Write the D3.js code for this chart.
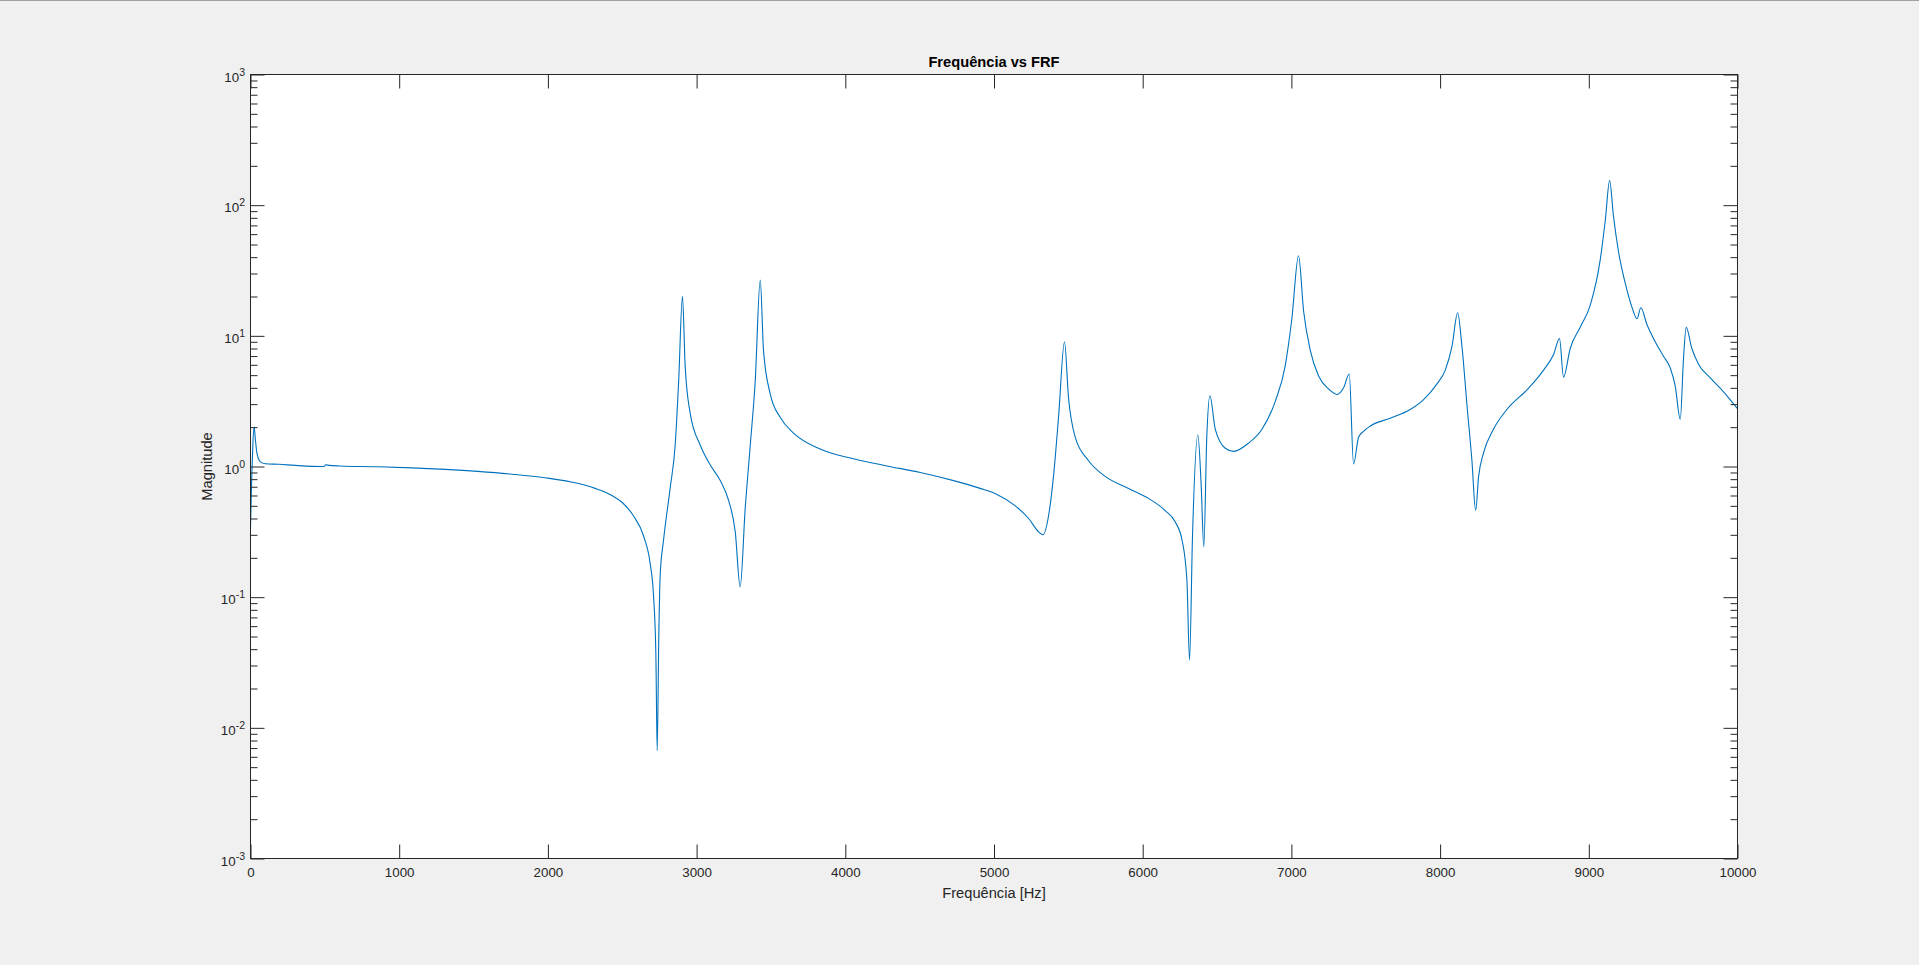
<!DOCTYPE html>
<html>
<head>
<meta charset="utf-8">
<script src="https://cdn.jsdelivr.net/npm/d3@7"></script>
<style>
  html, body { margin: 0; padding: 0; background: #f0f0f0; overflow: hidden; }
  svg { display: block; }
  text { font-family: "Liberation Sans", Arial, Helvetica, sans-serif; fill: #262626; }
</style>
</head>
<body>
<svg id="chart" width="1919" height="965"></svg>
<script>
const titleText = "Frequência vs FRF";
const xLabelText = "Frequência [Hz]";
const yLabelText = "Magnitude";

const xTicks = [0, 1000, 2000, 3000, 4000, 5000, 6000, 7000, 8000, 9000, 10000];
const yExponents = [-3, -2, -1, 0, 1, 2, 3];

const freq = [0, 8, 16, 25, 33, 43, 65, 100, 190, 300, 480, 495, 505, 530, 600, 860, 1085, 1310, 1530, 1760, 1980, 2206, 2318, 2430, 2500, 2576, 2643, 2688, 2710, 2726, 2735, 2746, 2755, 2778, 2822, 2856, 2879, 2905, 2923, 2957, 3024, 3091, 3159, 3215, 3260, 3293, 3327, 3361, 3394, 3428, 3450, 3495, 3562, 3652, 3831, 4056, 4280, 4504, 4728, 4907, 5010, 5143, 5233, 5300, 5329, 5367, 5400, 5434, 5474, 5501, 5546, 5636, 5748, 5905, 6039, 6151, 6219, 6264, 6297, 6315, 6335, 6371, 6393, 6411, 6431, 6452, 6488, 6555, 6611, 6712, 6802, 6891, 6958, 7003, 7048, 7082, 7127, 7183, 7250, 7306, 7351, 7389, 7418, 7452, 7485, 7530, 7665, 7799, 7889, 7979, 8035, 8080, 8118, 8147, 8181, 8214, 8239, 8259, 8292, 8359, 8449, 8584, 8696, 8763, 8803, 8830, 8875, 8943, 9010, 9077, 9111, 9140, 9166, 9200, 9245, 9290, 9324, 9350, 9391, 9435, 9502, 9548, 9581, 9615, 9637, 9655, 9693, 9738, 9817, 9906, 10000];

const magnitude = [0.34, 0.8, 1.5, 2.0, 1.6, 1.27, 1.09, 1.05, 1.04, 1.02, 1.0, 1.0, 1.03, 1.02, 1.01, 0.996, 0.976, 0.95, 0.917, 0.873, 0.82, 0.74, 0.68, 0.60, 0.53, 0.418, 0.295, 0.18, 0.104, 0.037, 0.0067, 0.052, 0.147, 0.275, 0.68, 1.46, 4.4, 20.1, 5.9, 2.55, 1.46, 1.03, 0.78, 0.55, 0.316, 0.12, 0.48, 1.46, 4.45, 26.7, 7.7, 3.6, 2.38, 1.80, 1.36, 1.145, 1.01, 0.90, 0.78, 0.68, 0.62, 0.50, 0.40, 0.316, 0.30, 0.42, 0.84, 2.38, 9.0, 3.37, 1.68, 1.107, 0.84, 0.68, 0.57, 0.46, 0.376, 0.275, 0.137, 0.033, 0.295, 1.74, 0.73, 0.243, 1.68, 3.48, 1.93, 1.38, 1.306, 1.51, 1.93, 3.14, 5.87, 13.5, 41, 15.5, 7.75, 4.93, 3.92, 3.56, 4.0, 5.1, 1.046, 1.68, 1.86, 2.04, 2.34, 2.73, 3.25, 4.29, 5.47, 8.3, 15.0, 8.3, 2.93, 1.11, 0.46, 0.84, 1.27, 1.93, 2.73, 3.86, 5.47, 7.2, 9.55, 4.83, 8.0, 11.7, 17.2, 38.3, 76.7, 154, 82, 44, 25.3, 16.6, 13.5, 16.4, 12.2, 9.55, 6.98, 5.67, 4.14, 2.30, 6.74, 11.6, 8.0, 6.07, 4.76, 3.73, 2.77];

const svg = d3.select("#chart");
const W = 1919, H = 965;
const L = 250.5, R = 1737.5, T = 74.5, B = 858.5;

svg.append("rect").attr("x", 0).attr("y", 0).attr("width", W).attr("height", H).attr("fill", "#f0f0f0");
svg.append("rect").attr("x", 0).attr("y", 0).attr("width", W).attr("height", 1).attr("fill", "#a0a0a0");

const x = d3.scaleLinear().domain([0, 10000]).range([L, R]);
const y = d3.scaleLog().domain([1e-3, 1e3]).range([B, T]);

svg.append("rect").attr("x", L).attr("y", T).attr("width", R - L).attr("height", B - T).attr("fill", "#ffffff");

svg.append("clipPath").attr("id", "clip").append("rect")
  .attr("x", L).attr("y", T).attr("width", R - L).attr("height", B - T);

const data = freq.map((f, i) => [f, magnitude[i]]);
svg.append("path")
  .datum(data)
  .attr("clip-path", "url(#clip)")
  .attr("fill", "none")
  .attr("stroke", "#0072BD")
  .attr("stroke-width", 1.1)
  .attr("stroke-linejoin", "round")
  .attr("d", d3.line().curve(d3.curveMonotoneX).x(d => x(d[0])).y(d => y(d[1])));

const axisColor = "#262626";
const majorY = yExponents.map(e => Math.pow(10, e));
const minorY = [];
for (let e = -3; e < 3; e++) for (let m = 2; m <= 9; m++) minorY.push(m * Math.pow(10, e));

function styleAxis(g) {
  g.select(".domain").remove();
  g.selectAll(".tick line").attr("stroke", axisColor).attr("stroke-width", 1);
  g.selectAll(".tick text").attr("fill", axisColor)
    .style("font-family", '"Liberation Sans", Arial, Helvetica, sans-serif')
    .style("font-size", "13.33px");
}

svg.append("g").attr("transform", `translate(0,${B})`)
  .call(d3.axisBottom(x).tickValues(xTicks).tickSizeInner(-14).tickSizeOuter(0).tickPadding(9.5).tickFormat(d3.format("d")))
  .call(styleAxis);
svg.append("g").attr("transform", `translate(0,${T})`)
  .call(d3.axisTop(x).tickValues(xTicks).tickSizeInner(-14).tickSizeOuter(0).tickFormat(""))
  .call(styleAxis);
svg.append("g").attr("transform", `translate(${L},0)`)
  .call(d3.axisLeft(y).tickValues(majorY).tickSizeInner(-14).tickSizeOuter(0).tickFormat(""))
  .call(styleAxis);
svg.append("g").attr("transform", `translate(${L},0)`)
  .call(d3.axisLeft(y).tickValues(minorY).tickSizeInner(-7).tickSizeOuter(0).tickFormat(""))
  .call(styleAxis);
svg.append("g").attr("transform", `translate(${R},0)`)
  .call(d3.axisRight(y).tickValues(majorY).tickSizeInner(-14).tickSizeOuter(0).tickFormat(""))
  .call(styleAxis);
svg.append("g").attr("transform", `translate(${R},0)`)
  .call(d3.axisRight(y).tickValues(minorY).tickSizeInner(-7).tickSizeOuter(0).tickFormat(""))
  .call(styleAxis);

const yl = svg.append("g");
yExponents.forEach(e => {
  const t = yl.append("text")
    .attr("x", 245)
    .attr("y", y(Math.pow(10, e)) + 7)
    .attr("text-anchor", "end")
    .style("font-size", "13.33px");
  t.append("tspan").text("10");
  t.append("tspan").attr("dy", -6).style("font-size", "10.5px").text(String(e));
});

svg.append("rect").attr("x", L).attr("y", T).attr("width", R - L).attr("height", B - T)
  .attr("fill", "none").attr("stroke", axisColor).attr("stroke-width", 1);

svg.append("text").attr("x", (L + R) / 2).attr("y", 66.5).attr("text-anchor", "middle")
  .style("font-size", "14.67px").style("font-weight", "bold").style("fill", "#000").text(titleText);
svg.append("text").attr("x", (L + R) / 2).attr("y", 898).attr("text-anchor", "middle")
  .style("font-size", "14.67px").text(xLabelText);
svg.append("text").attr("transform", `translate(212,${(T + B) / 2}) rotate(-90)`).attr("text-anchor", "middle")
  .style("font-size", "14.67px").text(yLabelText);
</script>
</body>
</html>
